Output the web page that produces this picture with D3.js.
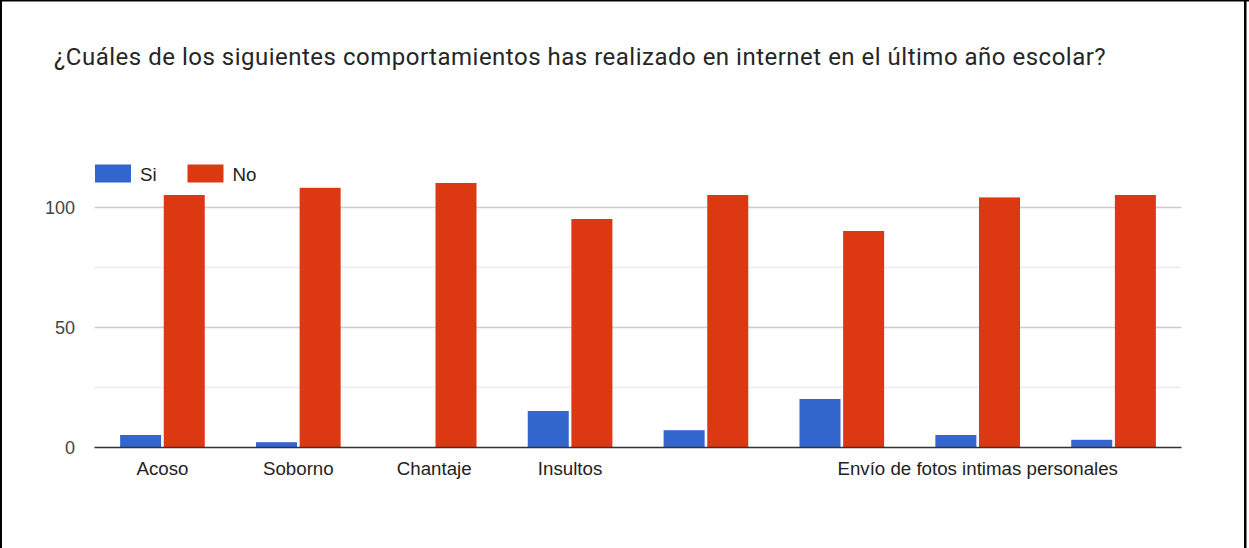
<!DOCTYPE html>
<html><head><meta charset="utf-8">
<script src="https://cdn.jsdelivr.net/npm/d3@7"></script>
<style>body{margin:0;background:#fff;overflow:hidden}</style>
</head><body><svg id="c" width="1249" height="548"></svg>
<script>
const title = "¿Cuáles de los siguientes comportamientos has realizado en internet en el último año escolar?";
const categories = ["Acoso", "Soborno", "Chantaje", "Insultos", "", "", "Envío de fotos intimas personales", ""];
const seriesNames = ["Si", "No"];
const siValues = [5, 2, 0, 15, 7, 20, 5, 3];
const noValues = [105, 108, 110, 95, 105, 90, 104, 105];
const yTicks = [0, 50, 100];
const yMinorTicks = [25, 75];
const colors = ["#3366cc", "#dc3912"];

const svg = d3.select("#c");
svg.append("rect").attr("width", 1249).attr("height", 548).attr("fill", "#fff");

// frame
svg.append("rect").attr("x", 0).attr("y", 0).attr("width", 2).attr("height", 548).attr("fill", "#000");
svg.append("rect").attr("x", 1244).attr("y", 0).attr("width", 2.5).attr("height", 548).attr("fill", "#000");
svg.append("rect").attr("x", 0).attr("y", 0).attr("width", 1249).attr("height", 1.5).attr("fill", "#000");

svg.append("text").attr("x", 54).attr("y", 65)
  .attr("font-family", "Roboto, sans-serif").attr("font-size", 24)
  .attr("letter-spacing", 0.5)
  .attr("fill", "#262626").text(title);

const x = d3.scaleBand().domain(d3.range(categories.length)).range([94.5, 1181.5]).paddingInner(0.377).paddingOuter(0.1885);
const xs = d3.scaleBand().domain([0, 1]).range([0, x.bandwidth()]).paddingInner(0.06);
const y = d3.scaleLinear().domain([0, 100]).range([447, 207]);

const g = svg.append("g");
// minor grid
g.selectAll("line.minor").data(yMinorTicks).join("line")
  .attr("x1", 94.5).attr("x2", 1181.5)
  .attr("y1", d => Math.round(y(d)) + 0.5).attr("y2", d => Math.round(y(d)) + 0.5)
  .attr("stroke", "#ebebeb").attr("stroke-width", 1.5);
g.selectAll("line.major").data(yTicks.filter(d => d !== 0)).join("line")
  .attr("x1", 94.5).attr("x2", 1181.5)
  .attr("y1", d => Math.round(y(d)) + 0.5).attr("y2", d => Math.round(y(d)) + 0.5)
  .attr("stroke", "#cccccc").attr("stroke-width", 1.5);

// y labels
g.selectAll("text.yl").data(yTicks).join("text")
  .attr("x", 75).attr("y", d => y(d) + 6.5).attr("text-anchor", "end")
  .attr("font-family", "Arial, 'Liberation Sans', sans-serif").attr("font-size", 18)
  .attr("fill", "#444").text(d => d);

// bars
const series = [siValues, noValues];
series.forEach((vals, si) => {
  g.selectAll("rect.s" + si).data(vals).join("rect")
    .attr("x", (d, i) => x(i) + xs(si))
    .attr("width", xs.bandwidth())
    .attr("y", d => y(d))
    .attr("height", d => y(0) - y(d))
    .attr("fill", colors[si]);
});

// baseline
g.append("line").attr("x1", 94.5).attr("x2", 1181.5).attr("y1", 447.5).attr("y2", 447.5)
  .attr("stroke", "#333").attr("stroke-width", 1.5);

// x labels
g.selectAll("text.xl").data(categories).join("text")
  .attr("x", (d, i) => x(i) + x.bandwidth() / 2).attr("y", 475)
  .attr("text-anchor", "middle")
  .attr("font-family", "Arial, 'Liberation Sans', sans-serif").attr("font-size", 18.7)
  .attr("fill", "#222").text(d => d);

// legend
const legendX = [95, 187.5];
seriesNames.forEach((n, i) => {
  svg.append("rect").attr("x", legendX[i]).attr("y", 164.5).attr("width", 36).attr("height", 18)
    .attr("fill", colors[i]);
  svg.append("text").attr("x", legendX[i] + 45).attr("y", 180.5)
    .attr("font-family", "Arial, 'Liberation Sans', sans-serif").attr("font-size", 18.7)
    .attr("fill", "#222").text(n);
});
</script>
</body></html>
